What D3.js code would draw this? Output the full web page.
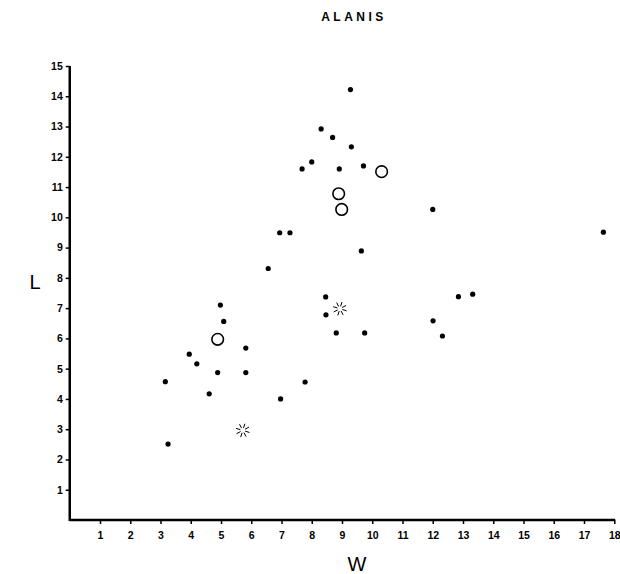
<!DOCTYPE html>
<html>
<head>
<meta charset="utf-8">
<script src="https://cdn.jsdelivr.net/npm/d3@7"></script>
<style>
  body { margin: 0; background: #fff; }
  svg { display: block; }
  .tick text { font-family: "Liberation Sans", Arial, sans-serif; font-weight: bold; font-size: 10.5px; }
</style>
</head>
<body>
<div id="container"></div>
<script>
// data (W, L)
const dotsW = [9.28, 8.31, 8.69, 9.31, 8.0, 7.68, 8.91, 9.71, 12.0, 6.94, 7.28, 9.64, 6.56, 8.46, 8.47, 8.81, 9.75, 12.01, 12.32, 7.78, 6.97, 17.64, 12.85, 13.32, 4.98, 5.09, 5.82, 3.95, 4.2, 4.89, 5.82, 3.16, 4.61, 3.25]
const dotsL = [14.22, 12.92, 12.64, 12.33, 11.83, 11.6, 11.6, 11.7, 10.26, 9.49, 9.49, 8.89, 8.31, 7.37, 6.78, 6.18, 6.18, 6.58, 6.08, 4.56, 4.0, 9.51, 7.38, 7.46, 7.1, 6.56, 5.68, 5.48, 5.16, 4.87, 4.87, 4.57, 4.17, 2.51]
const circlesW = [10.31, 8.89, 8.99, 4.89]
const circlesL = [11.51, 10.78, 10.26, 5.97]
const starsW = [8.93, 5.72]
const starsL = [6.98, 2.96]
const xTicks = d3.range(1, 19)
const yTicks = d3.range(1, 16)

const width = 620
const height = 574

const svg = d3.select('#container').append('svg')
    .attr('width', width)
    .attr('height', height)

const x = d3.scaleLinear().domain([0, 18]).range([69.75, 614.25])
const y = d3.scaleLinear().domain([0, 15]).range([520, 66])

// axes
const xAxis = svg.append('g')
    .attr('transform', `translate(0,${y(0)})`)
    .call(d3.axisBottom(x).tickValues(xTicks).tickSize(4).tickPadding(8).tickFormat(d3.format('d')))
xAxis.select('.domain').remove()
xAxis.selectAll('.tick line').attr('stroke-width', 1.5)

const yAxis = svg.append('g')
    .attr('transform', `translate(${x(0)},0)`)
    .call(d3.axisLeft(y).tickValues(yTicks).tickSize(4).tickPadding(3).tickFormat(d3.format('d')))
yAxis.select('.domain').remove()
yAxis.selectAll('.tick line').attr('stroke-width', 1.5)

svg.append('line')
    .attr('x1', x(0)).attr('x2', x(18) + 1)
    .attr('y1', y(0)).attr('y2', y(0))
    .attr('stroke', '#000').attr('stroke-width', 2.5)
svg.append('line')
    .attr('x1', x(0)).attr('x2', x(0))
    .attr('y1', y(0) + 1).attr('y2', y(15))
    .attr('stroke', '#000').attr('stroke-width', 2.5)

// labels
svg.append('text')
    .attr('x', 354).attr('y', 21)
    .attr('text-anchor', 'middle')
    .attr('font-family', 'Liberation Sans, Arial, sans-serif')
    .attr('font-weight', 'bold')
    .attr('font-size', 12)
    .attr('letter-spacing', 3.5)
    .text('ALANIS')

svg.append('text')
    .attr('x', 357).attr('y', 571)
    .attr('text-anchor', 'middle')
    .attr('font-family', 'Liberation Sans, Arial, sans-serif')
    .attr('font-size', 20)
    .text('W')

svg.append('text')
    .attr('x', 35).attr('y', 289)
    .attr('text-anchor', 'middle')
    .attr('font-family', 'Liberation Sans, Arial, sans-serif')
    .attr('font-size', 20)
    .text('L')

// marks
svg.append('g').selectAll('circle')
    .data(d3.zip(dotsW, dotsL))
    .join('circle')
    .attr('cx', (d) => x(d[0]))
    .attr('cy', (d) => y(d[1]))
    .attr('r', 2.6)
    .attr('fill', '#000')

svg.append('g').selectAll('circle')
    .data(d3.zip(circlesW, circlesL))
    .join('circle')
    .attr('cx', (d) => x(d[0]))
    .attr('cy', (d) => y(d[1]))
    .attr('r', 5.8)
    .attr('fill', 'none')
    .attr('stroke', '#000')
    .attr('stroke-width', 1.6)

const rays = d3.range(8).map((i) => (i * Math.PI) / 4 + 0.3)
const stars = svg.append('g').selectAll('g')
    .data(d3.zip(starsW, starsL))
    .join('g')
    .attr('transform', (d) => `translate(${x(d[0])},${y(d[1])})`)
stars.selectAll('line')
    .data(rays)
    .join('line')
    .attr('x1', (a) => 2.5 * Math.cos(a))
    .attr('y1', (a) => 2.5 * Math.sin(a))
    .attr('x2', (a) => 7 * Math.cos(a))
    .attr('y2', (a) => 7 * Math.sin(a))
    .attr('stroke', '#000')
    .attr('stroke-width', 1)
</script>
</body>
</html>
